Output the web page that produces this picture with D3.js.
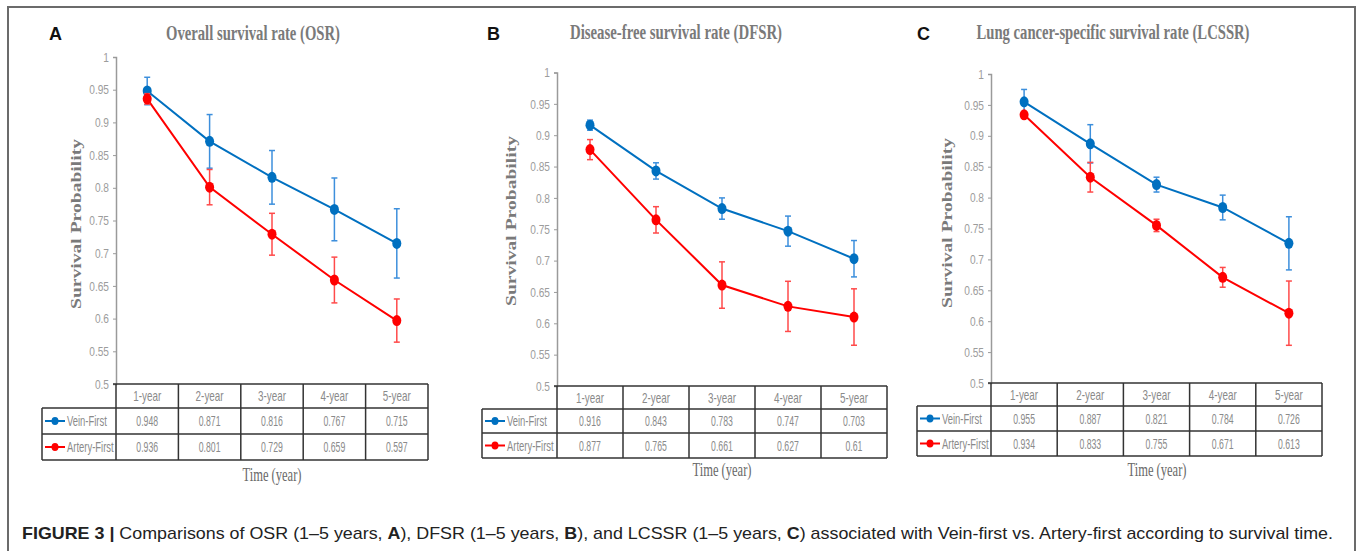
<!DOCTYPE html>
<html>
<head>
<meta charset="utf-8">
<script src="https://cdn.jsdelivr.net/npm/d3@7"></script>
<style>
  html, body { margin: 0; padding: 0; background: #fff; }
  svg { display: block; }
</style>
</head>
<body>
<svg id="chart" width="1357" height="554"></svg>
<script>
// ---------------- DATA ----------------
const years = ["1-year", "2-year", "3-year", "4-year", "5-year"];
const seriesNames = ["Vein-First", "Artery-First"];
const yTickValues = [0.5, 0.55, 0.6, 0.65, 0.7, 0.75, 0.8, 0.85, 0.9, 0.95, 1];
const yTickLabels = ["0.5", "0.55", "0.6", "0.65", "0.7", "0.75", "0.8", "0.85", "0.9", "0.95", "1"];
const panelLetters = ["A", "B", "C"];
const panelTitles = ["Overall survival rate (OSR)", "Disease-free survival rate (DFSR)", "Lung cancer-specific survival rate (LCSSR)"];

const osrVein = [0.948, 0.871, 0.816, 0.767, 0.715];
const osrArtery = [0.936, 0.801, 0.729, 0.659, 0.597];
const osrVeinErr = [0.021, 0.041, 0.041, 0.048, 0.053];
const osrArteryErr = [0.008, 0.027, 0.032, 0.035, 0.033];

const dfsrVein = [0.916, 0.843, 0.783, 0.747, 0.703];
const dfsrArtery = [0.877, 0.765, 0.661, 0.627, 0.61];
const dfsrVeinErr = [0.008, 0.013, 0.017, 0.024, 0.029];
const dfsrArteryErr = [0.016, 0.021, 0.037, 0.040, 0.045];

const lcssrVein = [0.955, 0.887, 0.821, 0.784, 0.726];
const lcssrArtery = [0.934, 0.833, 0.755, 0.671, 0.613];
const lcssrVeinErr = [0.020, 0.031, 0.012, 0.020, 0.043];
const lcssrArteryErr = [0.005, 0.024, 0.010, 0.016, 0.052];

const yAxisTitle = "Survival Probability";
const xAxisTitle = "Time (year)";
const captionBold = "FIGURE 3 |";
const captionRest = " Comparisons of OSR (1\u20135 years, A), DFSR (1\u20135 years, B), and LCSSR (1\u20135 years, C) associated with Vein-first vs. Artery-first according to survival time.";

// ---------------- LAYOUT / STYLE ----------------
const lineColors = ["#0070c0", "#ff0000"];
const errColors = ["#3d8fdc", "#ff4a4a"];

const panels = [
  { vein: osrVein, artery: osrArtery, veinErr: osrVeinErr, arteryErr: osrArteryErr,
    axisX: 116, right: 428, yTop: 57, yBot: 384, legLeft: 42, rows: [384, 408, 434, 460],
    letterX: 49, titleX: 253, titleW: 174, titleY: 40, ylabX: 81, ylabY: 224, timeX: 272, timeY: 481 },
  { vein: dfsrVein, artery: dfsrArtery, veinErr: dfsrVeinErr, arteryErr: dfsrArteryErr,
    axisX: 557, right: 887, yTop: 72.5, yBot: 386, legLeft: 482, rows: [386, 409, 433, 458],
    letterX: 487, titleX: 676, titleW: 212, titleY: 39, ylabX: 516, ylabY: 221, timeX: 722, timeY: 476 },
  { vein: lcssrVein, artery: lcssrArtery, veinErr: lcssrVeinErr, arteryErr: lcssrArteryErr,
    axisX: 991, right: 1322, yTop: 74, yBot: 383, legLeft: 917, rows: [383, 406, 431, 456],
    letterX: 917, titleX: 1113, titleW: 273, titleY: 39, ylabX: 952, ylabY: 223, timeX: 1157, timeY: 476 }
];

const svg = d3.select("#chart");

function condense(sel, factor) {
  sel.each(function () {
    const w = this.getComputedTextLength();
    d3.select(this).attr("textLength", w * factor).attr("lengthAdjust", "spacingAndGlyphs");
  });
}

// outer frame
svg.append("path")
  .attr("d", "M8,551 L8,7 L1355,7 L1355,551")
  .attr("fill", "none").attr("stroke", "#6b6b6b").attr("stroke-width", 2);

panels.forEach((p, pi) => {
  const g = svg.append("g");
  const y = d3.scaleLinear().domain([0.5, 1]).range([p.yBot, p.yTop]);
  const x = d3.scaleBand().domain(years).range([p.axisX, p.right]).padding(0);
  const cx = d => x(d) + x.bandwidth() / 2;

  // panel letter
  g.append("text").attr("x", p.letterX).attr("y", 40)
    .attr("font-family", "Liberation Sans, Arial, sans-serif").attr("font-weight", "bold")
    .attr("font-size", 18).attr("fill", "#111").text(panelLetters[pi]);

  // title
  g.append("text").attr("x", p.titleX).attr("y", p.titleY).attr("text-anchor", "middle")
    .attr("font-family", "Liberation Serif, Times New Roman, serif").attr("font-weight", "bold")
    .attr("font-size", 20).attr("fill", "#7a7a7a")
    .attr("textLength", p.titleW).attr("lengthAdjust", "spacingAndGlyphs")
    .text(panelTitles[pi]);

  // y axis title
  g.append("text")
    .attr("transform", `translate(${p.ylabX},${p.ylabY}) rotate(-90)`)
    .attr("text-anchor", "middle")
    .attr("font-family", "Liberation Serif, Times New Roman, serif").attr("font-weight", "bold")
    .attr("font-size", 15).attr("fill", "#7a7a7a")
    .attr("textLength", 170).attr("lengthAdjust", "spacingAndGlyphs")
    .text(yAxisTitle);

  // y axis
  const axis = d3.axisLeft(y).tickValues(yTickValues)
    .tickFormat((d, i) => yTickLabels[i]).tickSize(3).tickPadding(4);
  const ag = g.append("g").attr("transform", `translate(${p.axisX},0)`).call(axis);
  ag.select(".domain").attr("stroke", "#9a9a9a").attr("stroke-width", 1.5);
  ag.selectAll(".tick line").attr("stroke", "#9a9a9a");
  ag.selectAll(".tick text")
    .attr("font-family", "Liberation Sans, Arial, sans-serif")
    .attr("font-size", 13).attr("fill", "#9c9c9c");
  condense(ag.selectAll(".tick text"), 0.78);

  // table
  const r = p.rows;
  const tg = g.append("g").attr("stroke", "#333").attr("stroke-width", 1.5).attr("fill", "none");
  tg.append("line").attr("x1", p.axisX - 3).attr("x2", p.right).attr("y1", r[0]).attr("y2", r[0]);
  [r[1], r[2], r[3]].forEach(yy => tg.append("line").attr("x1", p.legLeft).attr("x2", p.right).attr("y1", yy).attr("y2", yy));
  const colEdges = [p.axisX].concat(years.map(d => x(d) + x.bandwidth()));
  colEdges.forEach(xx => tg.append("line").attr("x1", xx).attr("x2", xx).attr("y1", r[0]).attr("y2", r[3]));
  tg.append("line").attr("x1", p.legLeft).attr("x2", p.legLeft).attr("y1", r[1]).attr("y2", r[3]);

  const cellFont = sel => sel.attr("font-family", "Liberation Sans, Arial, sans-serif")
    .attr("font-size", 14.5).attr("fill", "#8a8a8a").attr("text-anchor", "middle");

  const hdr = g.selectAll(".hdr").data(years).enter().append("text")
    .attr("x", d => cx(d)).attr("y", (r[0] + r[1]) / 2 + 5).text(d => d).call(cellFont);
  condense(hdr, 0.68);

  const seriesVals = [p.vein, p.artery];
  const seriesErr = [p.veinErr, p.arteryErr];
  seriesVals.forEach((vals, si) => {
    const rowY = (r[si + 1] + r[si + 2]) / 2 + 5;
    const cells = g.selectAll(".cell" + si).data(vals).enter().append("text")
      .attr("x", (d, i) => cx(years[i])).attr("y", rowY).text(d => String(d)).call(cellFont);
    condense(cells, 0.6);
    // legend key
    const ly = (r[si + 1] + r[si + 2]) / 2;
    g.append("line").attr("x1", p.legLeft + 3).attr("x2", p.legLeft + 23).attr("y1", ly).attr("y2", ly)
      .attr("stroke", lineColors[si]).attr("stroke-width", 2);
    g.append("ellipse").attr("cx", p.legLeft + 13).attr("cy", ly).attr("rx", 3.5).attr("ry", 4)
      .attr("fill", lineColors[si]);
    const lt = g.append("text").attr("x", p.legLeft + 25).attr("y", rowY)
      .attr("font-family", "Liberation Sans, Arial, sans-serif")
      .attr("font-size", 14.5).attr("fill", "#8a8a8a").text(seriesNames[si]);
    condense(lt, 0.65);
  });

  // x axis title
  g.append("text").attr("x", p.timeX).attr("y", p.timeY).attr("text-anchor", "middle")
    .attr("font-family", "Liberation Serif, Times New Roman, serif")
    .attr("font-size", 18).attr("fill", "#6a6a6a")
    .attr("textLength", 59).attr("lengthAdjust", "spacingAndGlyphs")
    .text(xAxisTitle);

  // series: lines, error bars, points
  seriesVals.forEach((vals, si) => {
    const pts = vals.map((v, i) => ({ x: cx(years[i]), v, e: seriesErr[si][i] }));
    g.append("path").datum(pts)
      .attr("d", d3.line().x(d => d.x).y(d => y(d.v)))
      .attr("fill", "none").attr("stroke", lineColors[si]).attr("stroke-width", 2);
    const eg = g.append("g").attr("stroke", errColors[si]).attr("stroke-width", 1.5);
    pts.forEach(d => {
      eg.append("line").attr("x1", d.x).attr("x2", d.x).attr("y1", y(d.v + d.e)).attr("y2", y(d.v - d.e));
      eg.append("line").attr("x1", d.x - 3).attr("x2", d.x + 3).attr("y1", y(d.v + d.e)).attr("y2", y(d.v + d.e));
      eg.append("line").attr("x1", d.x - 3).attr("x2", d.x + 3).attr("y1", y(d.v - d.e)).attr("y2", y(d.v - d.e));
    });
    g.selectAll(".pt" + si).data(pts).enter().append("ellipse")
      .attr("cx", d => d.x).attr("cy", d => y(d.v)).attr("rx", 4.5).attr("ry", 5.5)
      .attr("fill", lineColors[si]);
  });
});

// caption
const cap = svg.append("text").attr("x", 22).attr("y", 539)
  .attr("font-family", "Liberation Sans, Arial, Helvetica, sans-serif")
  .attr("font-size", 17).attr("fill", "#222");
cap.append("tspan").attr("font-weight", "bold").text(captionBold);
const restParts = captionRest.split(/(A|B|C)(?=\))/);
restParts.forEach(part => {
  const t = cap.append("tspan").text(part);
  if (part === "A" || part === "B" || part === "C") t.attr("font-weight", "bold");
});
cap.attr("textLength", 1311).attr("lengthAdjust", "spacingAndGlyphs");
</script>
</body>
</html>
